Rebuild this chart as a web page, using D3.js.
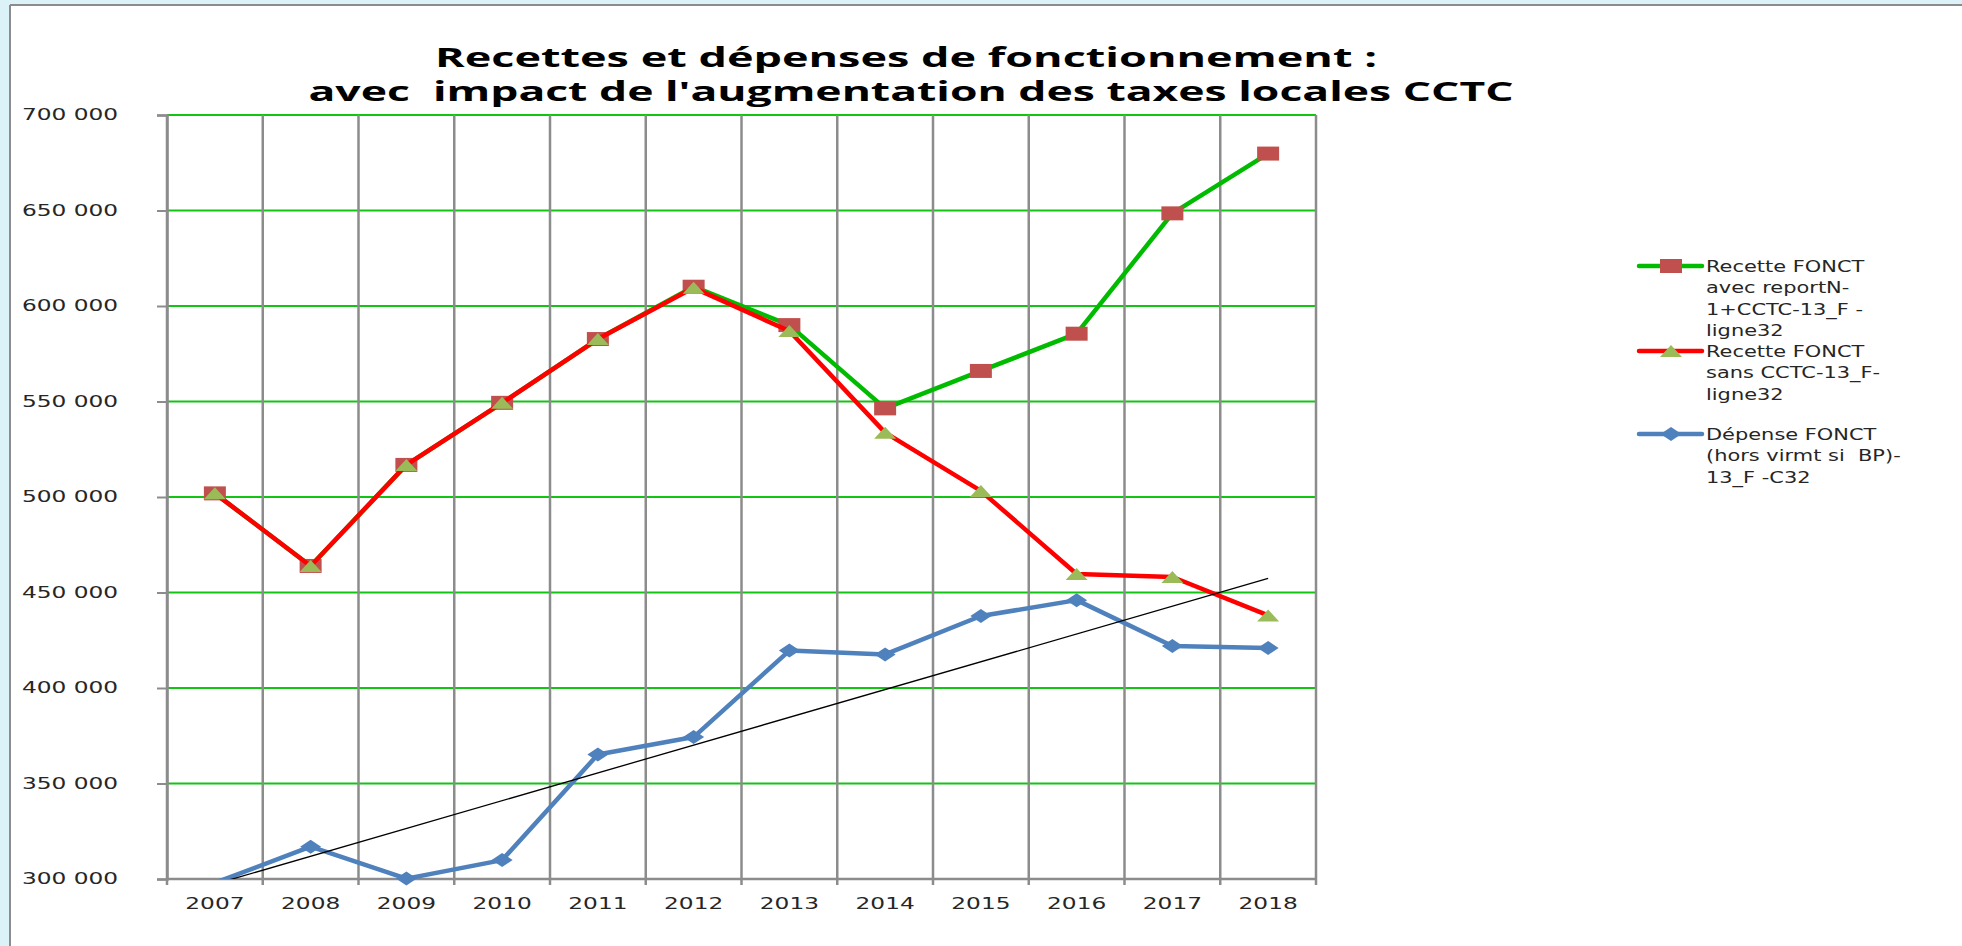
<!DOCTYPE html>
<html>
<head>
<meta charset="utf-8">
<script src="https://cdn.jsdelivr.net/npm/d3@7"></script>
<style>
  body { margin: 0; background: #ffffff; }
  svg { display: block; }
</style>
</head>
<body>
<script>
const W = 1962;
const H = 946;

const years = ["2007", "2008", "2009", "2010", "2011", "2012", "2013", "2014", "2015", "2016", "2017", "2018"];
const recetteAvec = [501900, 463900, 516800, 549300, 582700, 610100, 590000, 546400, 566000, 585500, 648500, 679800];
const recetteSans = [501900, 463900, 516800, 549300, 582700, 609500, 586900, 533700, 503200, 459700, 458100, 438000];
const depense = [298000, 316900, 300200, 309900, 365200, 374300, 419600, 417600, 437700, 446000, 422000, 421000];
const yTicks = [300000, 350000, 400000, 450000, 500000, 550000, 600000, 650000, 700000];
const titleLines = ["Recettes et dépenses de fonctionnement :", "avec  impact de l'augmentation des taxes locales CCTC"];
const legendLabels = [
  ["Recette FONCT", "avec reportN-", "1+CCTC-13_F -", "ligne32"],
  ["Recette FONCT", "sans CCTC-13_F-", "ligne32"],
  ["Dépense FONCT", "(hors virmt si  BP)-", "13_F -C32"]
];

const plotLeft = 167, plotRight = 1316, plotTop = 115, plotBottom = 879;
const stretch = 1.5;

const svg = d3.select("body").append("svg").attr("width", W).attr("height", H);

// outer frame
svg.append("rect").attr("width", W).attr("height", H).attr("fill", "#dbf3f8");
svg.append("rect").attr("x", 10).attr("y", 5).attr("width", W - 10).attr("height", H - 5).attr("fill", "#ffffff");
svg.append("line").attr("x1", 10).attr("x2", W).attr("y1", 5).attr("y2", 5).attr("stroke", "#8c8c8c").attr("stroke-width", 2);
svg.append("line").attr("x1", 10).attr("x2", 10).attr("y1", 5).attr("y2", H).attr("stroke", "#8c8c8c").attr("stroke-width", 2);

// title
const titleX = [906, 911];
const titleY = [67, 101];
const titleW = [942, 1205];
titleLines.forEach((t, i) => {
  svg.append("text")
    .attr("x", titleX[i]).attr("y", titleY[i])
    .attr("text-anchor", "middle")
    .attr("font-family", "Open Sans")
    .attr("font-weight", 700)
    .attr("font-size", 26)
    .attr("textLength", titleW[i])
    .attr("lengthAdjust", "spacingAndGlyphs")
    .style("white-space", "pre")
    .attr("fill", "#000")
    .text(t);
});

const x = d3.scaleBand().domain(years).range([plotLeft, plotRight]);
const xc = (yr) => x(yr) + x.bandwidth() / 2;
const y = d3.scaleLinear().domain([300000, 700000]).range([plotBottom, plotTop]);

const locale = d3.formatLocale({ decimal: ",", thousands: " ", grouping: [3], currency: ["", " €"] });
const fmt = locale.format(",");

// horizontal gridlines
svg.append("g").selectAll("line")
  .data(yTicks.filter((v) => v > 300000))
  .enter().append("line")
  .attr("x1", plotLeft).attr("x2", plotRight)
  .attr("y1", (d) => y(d)).attr("y2", (d) => y(d))
  .attr("stroke", "#14c414").attr("stroke-width", 2);

// vertical gridlines (category boundaries, running into tick marks)
svg.append("g").selectAll("line")
  .data(d3.range(years.length + 1))
  .enter().append("line")
  .attr("x1", (i) => plotLeft + i * x.step()).attr("x2", (i) => plotLeft + i * x.step())
  .attr("y1", plotTop).attr("y2", plotBottom + 6)
  .attr("stroke", "#8c8c8c").attr("stroke-width", 2.5);

// y axis
const yAxis = d3.axisLeft(y).tickValues(yTicks).tickSize(10).tickPadding(39).tickFormat(fmt);
const gy = svg.append("g").attr("transform", "translate(" + plotLeft + ",0)").call(yAxis);
gy.select(".domain").attr("stroke", "#8c8c8c").attr("stroke-width", 2.5);
gy.selectAll(".tick line").attr("stroke", "#8c8c8c").attr("stroke-width", 2);
gy.selectAll(".tick text")
  .attr("font-family", "DejaVu Sans").attr("font-size", 15.5).attr("fill", "#262626")
  .attr("transform", function () {
    return "translate(" + this.getAttribute("x") + ",0) scale(" + stretch + ",1)";
  })
  .attr("x", 0);

// x axis
const xAxis = d3.axisBottom(x).tickSize(0).tickPadding(19);
const gx = svg.append("g").attr("transform", "translate(0," + plotBottom + ")").call(xAxis);
gx.select(".domain").remove();
gx.selectAll(".tick text")
  .attr("font-family", "DejaVu Sans").attr("font-size", 15.5).attr("fill", "#262626")
  .attr("transform", "scale(" + stretch + ",1)");
svg.append("line").attr("x1", plotLeft).attr("x2", plotRight).attr("y1", plotBottom).attr("y2", plotBottom)
  .attr("stroke", "#8c8c8c").attr("stroke-width", 2.5);

// clip for lines
svg.append("clipPath").attr("id", "plot")
  .append("rect").attr("x", plotLeft).attr("y", plotTop - 20)
  .attr("width", plotRight - plotLeft).attr("height", plotBottom - plotTop + 20);

const line = d3.line().x((d, i) => xc(years[i])).y((d) => y(d));

const markers = {
  square: "M-11,-7H11V7H-11Z",
  triangle: "M0,-6L11,6L-11,6Z",
  diamond: "M0,-7L10.5,0L0,7L-10.5,0Z"
};

const series = [
  { values: recetteAvec, color: "#00bb00", marker: "square", mcolor: "#c0504d" },
  { values: recetteSans, color: "#ff0000", marker: "triangle", mcolor: "#9bbb59" },
  { values: depense, color: "#4f81bd", marker: "diamond", mcolor: "#4f81bd" }
];

series.forEach((s) => {
  svg.append("path")
    .datum(s.values)
    .attr("clip-path", "url(#plot)")
    .attr("d", line)
    .attr("fill", "none")
    .attr("stroke", s.color)
    .attr("stroke-width", 4.5)
    .attr("stroke-linejoin", "round");
  svg.append("g").selectAll("path")
    .data(years.map((yr, i) => [yr, s.values[i]]).filter((d) => d[1] >= 300000))
    .enter().append("path")
    .attr("d", markers[s.marker])
    .attr("transform", (d) => "translate(" + xc(d[0]) + "," + y(d[1]) + ")")
    .attr("fill", s.mcolor);
});

// linear trend of the expenses
const idx = d3.range(depense.length);
const mx = d3.mean(idx);
const my = d3.mean(depense);
const slope = d3.sum(idx, (i) => (i - mx) * (depense[i] - my)) / d3.sum(idx, (i) => (i - mx) * (i - mx));
const icpt = my - slope * mx;
const last = depense.length - 1;
svg.append("line")
  .attr("clip-path", "url(#plot)")
  .attr("x1", xc(years[0])).attr("y1", y(icpt))
  .attr("x2", xc(years[last])).attr("y2", y(icpt + slope * last))
  .attr("stroke", "#000").attr("stroke-width", 1.3);

// legend
const legendY = [266, 351, 434];
const lg = svg.append("g");
series.forEach((s, k) => {
  const ly = legendY[k];
  lg.append("line").attr("x1", 1639).attr("x2", 1702).attr("y1", ly).attr("y2", ly)
    .attr("stroke", s.color).attr("stroke-width", 4.5).attr("stroke-linecap", "round");
  lg.append("path").attr("d", markers[s.marker])
    .attr("transform", "translate(1671," + ly + ")").attr("fill", s.mcolor);
  legendLabels[k].forEach((t, j) => {
    lg.append("text")
      .attr("transform", "translate(1706," + (ly + j * 21.5) + ") scale(1.35,1)")
      .attr("dy", "0.36em")
      .attr("font-family", "DejaVu Sans").attr("font-size", 15.5).attr("fill", "#262626")
      .style("white-space", "pre")
      .text(t);
  });
});
</script>
</body>
</html>
